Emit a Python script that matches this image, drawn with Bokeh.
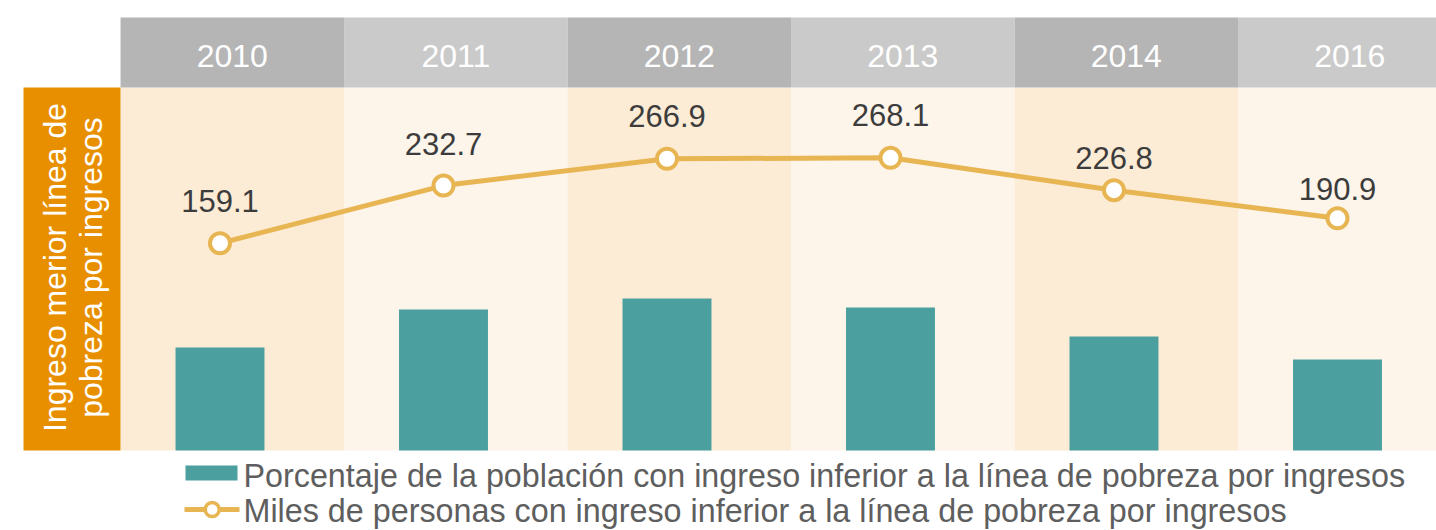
import math
from bokeh.plotting import figure
from bokeh.models import Range1d, ColumnDataSource
from bokeh.embed import file_html
from bokeh.resources import INLINE
from bokeh.core.properties import value

# ---------------- data ----------------
years = ["2010", "2011", "2012", "2013", "2014", "2016"]
porcentaje = [10.3, 14.1, 15.2, 14.3, 11.4, 9.1]          # bar series (relative heights)
miles = [159.1, 232.7, 266.9, 268.1, 226.8, 190.9]        # line series (miles de personas)
miles_labels = ["159.1", "232.7", "266.9", "268.1", "226.8", "190.9"]
side_title = ["Ingreso merior línea de", "pobreza por ingresos"]
legend_bar = "Porcentaje de la población con ingreso inferior a la línea de pobreza por ingresos"
legend_line = "Miles de personas con ingreso inferior a la línea de pobreza por ingresos"

# ---------------- styles / layout ----------------
TS = 12                                # svg baseline compensation (px)
label_dy = [30, 30, 31, 31, 20, 17]   # px above marker for each value label
FONT = value("Liberation Sans")
TEAL = "#4ba09f"
GOLD = "#e8b553"
ORANGE = "#e88f00"
col_fill = ["#fcebd5", "#fdf4ea"]
head_fill = ["#b5b5b5", "#cacaca"]

W, H = 1436, 530

xs = list(range(len(years)))

p = figure(width=W, height=H, output_backend="svg", toolbar_location=None,
           x_range=Range1d(-0.9821, 5.443), y_range=Range1d(-8.0, 45.0),
           x_axis_location=None, y_axis_location=None, min_border=0)
p.grid.visible = False
p.outline_line_color = None
p.background_fill_color = "white"
p.border_fill_color = "white"
p.extra_x_ranges = {"px": Range1d(0, 1436)}
p.extra_y_ranges = {"px": Range1d(530, 0), "line": Range1d(-207.5, 468.9)}

# column backgrounds and header cells
lefts = [i - 0.445 for i in xs]
rights = [i + 0.555 for i in xs]
p.quad(left=lefts, right=rights, top=87, bottom=450,
       fill_color=[col_fill[i % 2] for i in xs], line_color=None, y_range_name="px")
p.quad(left=lefts, right=rights, top=17, bottom=87,
       fill_color=[head_fill[i % 2] for i in xs], line_color=None, y_range_name="px")
p.text(x=[i + 0.055 for i in xs], y=[67 - TS] * len(xs), text=years, y_range_name="px",
       text_font=FONT, text_font_size="32px", text_color="white",
       text_align="center", text_baseline="alphabetic")

# orange side box with rotated title
p.quad(left=23, right=120, top=87, bottom=450, fill_color=ORANGE, line_color=None,
       x_range_name="px", y_range_name="px")
p.text(x=[66 - TS, 102 - TS], y=[267, 267], text=side_title, angle=math.pi / 2,
       x_range_name="px", y_range_name="px", text_font=FONT, text_font_size="32px",
       text_color="white", text_align="center", text_baseline="alphabetic")

# bars
p.vbar(x=xs, top=porcentaje, bottom=0, width=0.398, fill_color=TEAL, line_color=None)

# line + markers
p.line(x=xs, y=miles, line_color=GOLD, line_width=5, y_range_name="line")
p.scatter(x=xs, y=miles, marker="circle", size=20, fill_color="white",
          line_color=GOLD, line_width=4, y_range_name="line")
src = ColumnDataSource(dict(x=xs, y=miles, t=miles_labels,
                            dy=[-(d + TS) for d in label_dy]))
p.text(x="x", y="y", text="t", y_offset="dy", source=src, y_range_name="line",
       text_font=FONT, text_font_size="31px", text_color="#3c3c3c",
       text_align="center", text_baseline="alphabetic")

# legend (drawn manually)
p.quad(left=185, right=237, top=465, bottom=480, fill_color=TEAL, line_color=None,
       x_range_name="px", y_range_name="px")
p.text(x=[243], y=[487 - TS], text=[legend_bar], x_range_name="px", y_range_name="px",
       text_font=FONT, text_font_size="32.3px", text_color="#5e5e5e",
       text_align="left", text_baseline="alphabetic")
p.line(x=[184, 239], y=[509, 509], line_color=GOLD, line_width=5,
       x_range_name="px", y_range_name="px")
p.scatter(x=[211.7], y=[509], marker="circle", size=14, fill_color="white",
          line_color=GOLD, line_width=3.5, x_range_name="px", y_range_name="px")
p.text(x=[243], y=[522.5 - TS], text=[legend_line], x_range_name="px", y_range_name="px",
       text_font=FONT, text_font_size="32.3px", text_color="#5e5e5e",
       text_align="left", text_baseline="alphabetic")

open("out.html", "w").write(file_html(p, INLINE))
